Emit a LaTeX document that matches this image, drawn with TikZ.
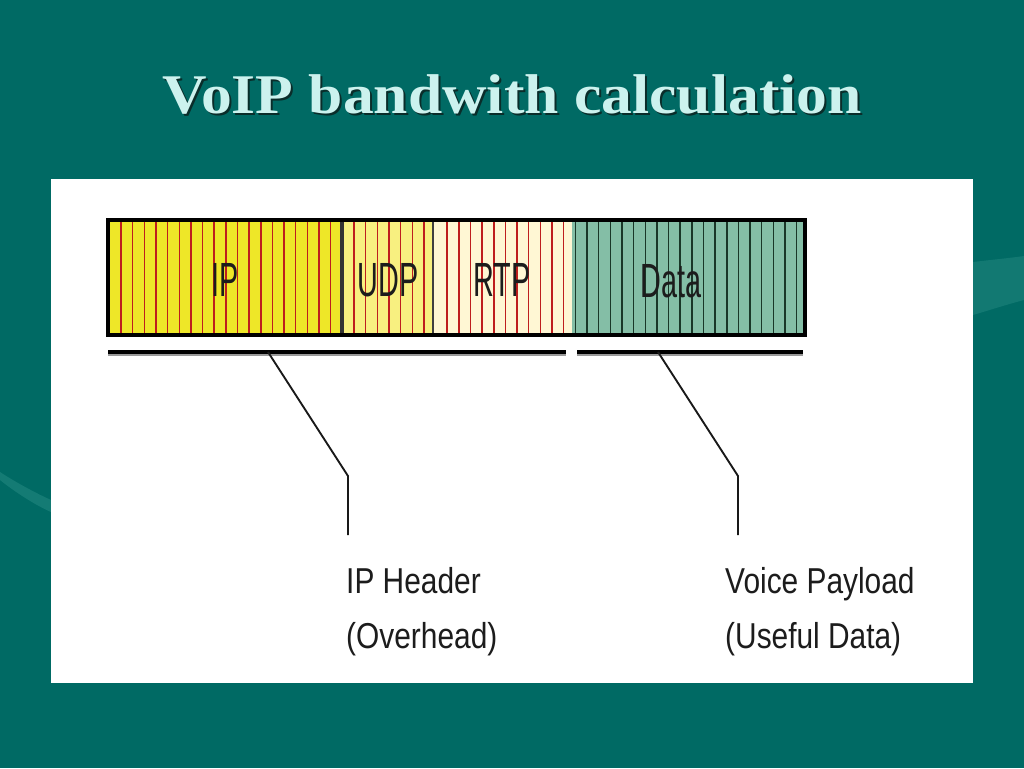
\documentclass[tikz,border=0pt]{standalone}
\usepackage{fontspec}
\setmainfont{Liberation Sans}
\newfontfamily\titlefont{Liberation Serif}
\definecolor{bgteal}{RGB}{0,106,100}
\definecolor{swoosh}{RGB}{40,140,132}
\definecolor{titlecol}{RGB}{204,242,238}
\definecolor{titleshadow}{RGB}{10,45,42}
\definecolor{ipfill}{RGB}{238,231,40}
\definecolor{udpfill}{RGB}{248,240,128}
\definecolor{rtpfill}{RGB}{255,247,212}
\definecolor{datafill}{RGB}{132,190,166}
\definecolor{redstripe}{RGB}{190,30,30}
\definecolor{greenstripe}{RGB}{25,55,40}
\definecolor{labeltext}{RGB}{28,28,28}
\tikzset{
  barlabel/.style={font=\fontsize{36}{40}\selectfont, text=labeltext, xscale=0.6, inner sep=0pt},
  callout/.style={font=\fontsize{27}{41}\selectfont, text=labeltext, xscale=0.83, inner sep=0pt, anchor=north west, align=left},
  brace/.style={line width=3pt, black},
  braceshadow/.style={line width=1.5pt, black!40},
  leader/.style={line width=1.4pt, black!90},
}
\begin{document}
\begin{tikzpicture}[x=0.75pt,y=-0.75pt]
\useasboundingbox (0,0) rectangle (1024,768);
\fill[bgteal] (0,0) rectangle (1024,768);
% faint background swooshes
\fill[swoosh, opacity=0.5] (0,472) .. controls (20,485) and (40,495) .. (51,500) -- (51,512) .. controls (35,505) and (15,492) .. (0,480) -- cycle;
\fill[swoosh, opacity=0.45] (973,262) .. controls (990,260) and (1010,258) .. (1024,256) -- (1024,300) .. controls (1005,305) and (990,310) .. (973,315) -- cycle;
% title
\node[font=\titlefont\bfseries\fontsize{42}{48}\selectfont, text=titleshadow, xscale=1.1, anchor=base] at (514,115) {VoIP bandwith calculation};
\node[font=\titlefont\bfseries\fontsize{42}{48}\selectfont, text=titlecol, xscale=1.1, anchor=base] (title) at (512,113) {VoIP bandwith calculation};
% white panel
\fill[white] (51,179) rectangle (973,683);
% bar segments
\fill[ipfill] (108,220) rectangle (342,335);
\fill[udpfill] (342,220) rectangle (433,335);
\fill[rtpfill] (433,220) rectangle (572,335);
\fill[datafill] (572,220) rectangle (805,335);
% stripes
\foreach \k in {0,...,18} {\draw[redstripe, line width=1.1pt] ({121+\k*11.65},222) -- ({121+\k*11.65},333);}
\foreach \k in {20,...,26} {\draw[redstripe, line width=1.1pt] ({121+\k*11.65},222) -- ({121+\k*11.65},333);}
\foreach \k in {28,...,38} {\draw[redstripe, line width=1.1pt] ({121+\k*11.65},222) -- ({121+\k*11.65},333);}
\foreach \k in {39,...,58} {\draw[greenstripe, line width=1.1pt] ({121+\k*11.65},222) -- ({121+\k*11.65},333);}
% dividers
\draw[black!80, line width=2.4pt] (342,220) -- (342,335);
\draw[black!75, line width=1.6pt] (433,220) -- (433,335);
% frame
\draw[black, line width=3.6pt] (108,220) rectangle (805,335);
% bar labels
\node[barlabel] (ip) at (225,280) {IP};
\node[barlabel] (udp) at (388,280) {UDP};
\node[barlabel] (rtp) at (502,280) {RTP};
\node[barlabel] (data) at (671,281) {Data};
% underlines
\coordinate (hl1) at (108,352);
\coordinate (hl2) at (566,352);
\coordinate (hr1) at (577,352);
\coordinate (hr2) at (803,352);
\draw[braceshadow] ([yshift=-2.2pt]hl1) -- ([yshift=-2.2pt]hl2);
\draw[braceshadow] ([yshift=-2.2pt]hr1) -- ([yshift=-2.2pt]hr2);
\draw[brace] (hl1) -- (hl2);
\draw[brace] (hr1) -- (hr2);
% leaders
\coordinate (la) at (268,352);
\coordinate (lb) at (348,476);
\coordinate (ra) at (658,352);
\coordinate (rb) at (738,476);
\node[callout] (hdr) at (346,567) {IP Header\\(Overhead)};
\node[callout] (pay) at (725,567) {Voice Payload\\(Useful Data)};
\draw[leader] (la) -- (lb) -- (348,535);
\draw[leader] (ra) -- (rb) -- (738,535);
\end{tikzpicture}
\end{document}
